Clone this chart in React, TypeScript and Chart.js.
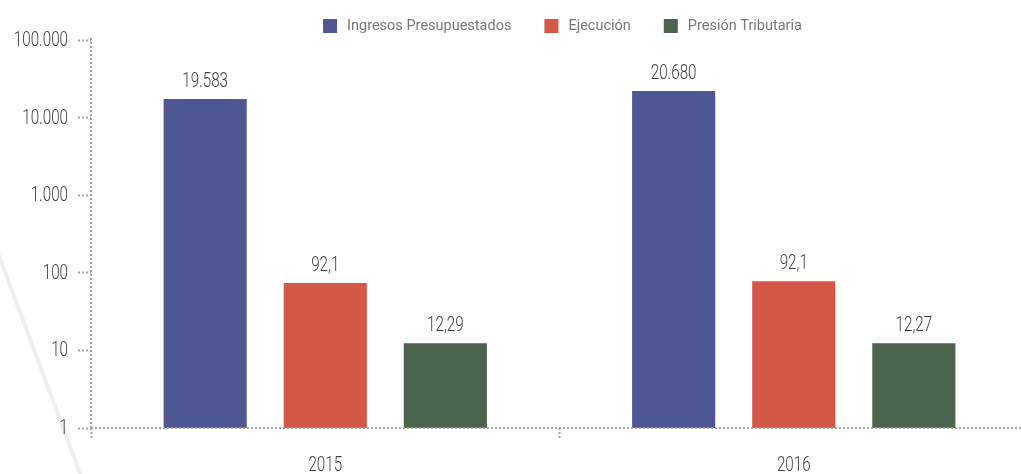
import React, { useEffect, useRef } from 'react';
import { Chart, registerables } from 'chart.js';

Chart.register(...registerables);

// ---- data ----
const categories = ['2015', '2016'];
const seriesNames = ['Ingresos Presupuestados', 'Ejecución', 'Presión Tributaria'];
const seriesColors = ['#4e5794', '#d35745', '#4c634e'];
// bar heights as drawn in the picture (log scale)
const ingresosValues = [17400, 22000];
const ejecucionValues = [74, 78];
const presionValues = [12.4, 12.4];
// value labels printed above the bars
const ingresosLabels = ['19.583', '20.680'];
const ejecucionLabels = ['92,1', '92,1'];
const presionLabels = ['12,29', '12,27'];
const yTickValues = [1, 10, 100, 1000, 10000, 100000];
const yTickLabels = ['1', '10', '100', '1.000', '10.000', '100.000'];

const FONT = 'Roboto, sans-serif';
const NARROW_SCALE = 0.76;
const GRID = '#a3a3a3';
const DASH = [2, 2];
const TEXT = '#3f3f3f';

const valueLabelSets = [ingresosLabels, ejecucionLabels, presionLabels];

function narrowText(ctx: any, text: string, x: number, y: number, align: string, baseline: string) {
  ctx.save();
  ctx.translate(x, y);
  ctx.scale(NARROW_SCALE, 1);
  ctx.textAlign = align;
  ctx.textBaseline = baseline;
  ctx.fillText(text, 0, 0);
  ctx.restore();
}

const decoPlugin = {
  id: 'decoLine',
  beforeDraw(chart: any) {
    const ctx = chart.ctx;
    ctx.save();
    ctx.strokeStyle = '#eeeeee';
    ctx.lineWidth = 4;
    ctx.beginPath();
    ctx.moveTo(-5, 245);
    ctx.lineTo(81, 476);
    ctx.stroke();
    ctx.restore();
  },
};

// dotted axis lines (Chart.js does not dash the axis border itself)
const axisLinePlugin = {
  id: 'axisLines',
  afterDatasetsDraw(chart: any) {
    const ctx = chart.ctx;
    const { left, right, top, bottom } = chart.chartArea;
    ctx.save();
    ctx.strokeStyle = GRID;
    ctx.lineWidth = 2;
    ctx.setLineDash(DASH);
    ctx.beginPath();
    ctx.moveTo(left, bottom);
    ctx.lineTo(right, bottom);
    ctx.stroke();
    ctx.beginPath();
    ctx.moveTo(left, top - 2);
    ctx.lineTo(left, bottom);
    ctx.stroke();
    ctx.restore();
  },
};

const valueLabelPlugin = {
  id: 'valueLabels',
  afterDatasetsDraw(chart: any) {
    const ctx = chart.ctx;
    ctx.save();
    ctx.font = `300 20px ${FONT}`;
    ctx.fillStyle = TEXT;
    chart.data.datasets.forEach((ds: any, di: number) => {
      const meta = chart.getDatasetMeta(di);
      meta.data.forEach((el: any, i: number) => {
        narrowText(ctx, valueLabelSets[di][i], el.x, el.y - 12, 'center', 'alphabetic');
      });
    });
    ctx.restore();
  },
};

const axisLabelPlugin = {
  id: 'axisLabels',
  afterDraw(chart: any) {
    const ctx = chart.ctx;
    const ys = chart.scales.y;
    const xs = chart.scales.x;
    ctx.save();
    ctx.fillStyle = TEXT;
    ctx.font = `300 20px ${FONT}`;
    yTickValues.forEach((v, i) => {
      const py = ys.getPixelForValue(v);
      narrowText(ctx, yTickLabels[i], ys.right - 23, py + 1, 'right', 'middle');
    });
    categories.forEach((c, i) => {
      const px = xs.getPixelForTick(i);
      narrowText(ctx, c, px, xs.top + 38, 'center', 'middle');
    });
    ctx.restore();
  },
};

const legendPlugin = {
  id: 'topLegend',
  afterDraw(chart: any) {
    const ctx = chart.ctx;
    ctx.save();
    ctx.font = '14.5px Roboto';
    const box = 14;
    const gapText = 10;
    const gapItem = 33;
    const labels = chart.data.datasets.map((d: any) => d.label as string);
    const widths = labels.map((t: string) => ctx.measureText(t).width);
    const total =
      widths.reduce((a: number, w: number) => a + box + gapText + w, 0) + gapItem * (labels.length - 1);
    const center = (chart.chartArea.left + chart.chartArea.right) / 2 + 3;
    let x = center - total / 2;
    const top = 19;
    ctx.textBaseline = 'middle';
    ctx.textAlign = 'left';
    labels.forEach((t: string, i: number) => {
      ctx.fillStyle = chart.data.datasets[i].backgroundColor;
      ctx.fillRect(x, top, box, box);
      ctx.fillStyle = '#777777';
      ctx.fillText(t, x + box + gapText, top + box / 2 + 0.5);
      x += box + gapText + widths[i] + gapItem;
    });
    ctx.restore();
  },
};

export default function App() {
  const ref = useRef<HTMLCanvasElement | null>(null);

  useEffect(() => {
    if (!ref.current) return;
    const seriesValues = [ingresosValues, ejecucionValues, presionValues];
    const chart = new Chart(ref.current, {
      type: 'bar',
      data: {
        labels: categories,
        datasets: seriesNames.map((name, i) => ({
          label: name,
          data: seriesValues[i],
          backgroundColor: seriesColors[i],
          borderWidth: 0,
          categoryPercentage: 0.769,
          barPercentage: 0.692,
        })),
      },
      options: {
        responsive: false,
        animation: false,
        devicePixelRatio: 1,
        layout: { padding: { top: 40, left: 0, right: 0, bottom: 0 } },
        plugins: {
          legend: { display: false },
          tooltip: { enabled: false },
        },
        scales: {
          x: {
            grid: {
              offset: true,
              drawOnChartArea: false,
              drawTicks: true,
              tickLength: 10,
              tickColor: GRID,
              tickWidth: 2,
              tickBorderDash: DASH,
            },
            border: { display: false },
            ticks: { display: false },
            afterFit: (s: any) => {
              s.height = 46;
            },
          },
          y: {
            type: 'logarithmic',
            min: 1,
            max: 100000,
            grid: {
              drawOnChartArea: false,
              drawTicks: true,
              tickLength: 13,
              tickColor: GRID,
              tickWidth: 2,
              tickBorderDash: DASH,
            },
            border: { display: false },
            afterBuildTicks: (s: any) => {
              s.ticks = yTickValues.map((v) => ({ value: v }));
            },
            ticks: { display: false },
            afterFit: (s: any) => {
              s.width = 91;
            },
          },
        },
      },
      plugins: [decoPlugin, axisLinePlugin, valueLabelPlugin, axisLabelPlugin, legendPlugin],
    } as any);
    return () => chart.destroy();
  }, []);

  return (
    <div
      style={{
        position: 'fixed',
        left: 0,
        top: 0,
        width: 1021,
        height: 474,
        overflow: 'hidden',
        background: '#ffffff',
      }}
    >
      <canvas ref={ref} width={1028} height={474} style={{ display: 'block', width: 1028, height: 474 }} />
    </div>
  );
}
